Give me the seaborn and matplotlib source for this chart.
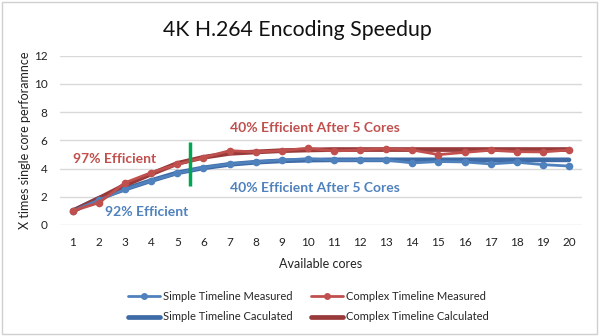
import matplotlib
matplotlib.use("Agg")
import matplotlib.pyplot as plt
from matplotlib.lines import Line2D
from matplotlib.patches import Rectangle
import seaborn as sns
import pandas as pd

cores = list(range(1, 21))
simple_measured = [1.0, 1.77, 2.53, 3.14, 3.67, 4.07, 4.33, 4.47, 4.60, 4.70,
                   4.60, 4.60, 4.60, 4.40, 4.50, 4.47, 4.33, 4.45, 4.28, 4.18]
complex_measured = [1.0, 1.58, 3.00, 3.71, 4.30, 4.78, 5.27, 5.18, 5.27, 5.44,
                    5.25, 5.32, 5.41, 5.32, 4.99, 5.15, 5.30, 5.20, 5.18, 5.32]
simple_calculated = [1.0, 1.90, 2.55, 3.15, 3.70, 4.05, 4.30, 4.45, 4.55, 4.60,
                     4.62, 4.62, 4.62, 4.62, 4.62, 4.62, 4.62, 4.62, 4.62, 4.62]
complex_calculated = [1.0, 1.89, 2.84, 3.62, 4.37, 4.80, 5.08, 5.18, 5.27, 5.32,
                      5.35, 5.35, 5.35, 5.35, 5.35, 5.35, 5.35, 5.35, 5.35, 5.35]
series_names = ["Simple Timeline Measured", "Complex Timeline Measured",
                "Simple Timeline Caculated", "Complex Timeline Calculated"]
split_x = 5.5
split_range = (2.8, 5.85)

BLUE = "#4F81BD"
RED = "#C0504D"
BLUE_DARK = "#3E6AA6"
RED_DARK = "#98393A"

sns.set_theme(style="white")
plt.rcParams["font.family"] = ["Lato", "DejaVu Sans"]

df = pd.DataFrame({
    "cores": cores * 4,
    "value": simple_measured + complex_measured + simple_calculated + complex_calculated,
    "series": sum([[n] * len(cores) for n in series_names], []),
})

fig = plt.figure(figsize=(5.99, 3.36), dpi=100)
fig.patches.append(Rectangle((0.004, 0.005), 0.992, 0.988, transform=fig.transFigure,
                             fill=False, edgecolor="#D0D0D0", linewidth=1.0))
ax = fig.add_axes([0.100, 0.3304, 0.8716, 0.5036])

styles = {
    series_names[2]: dict(color=BLUE_DARK, lw=3.4, marker=None),
    series_names[3]: dict(color=RED_DARK, lw=3.4, marker=None),
    series_names[0]: dict(color=BLUE, lw=2.0, marker="o"),
    series_names[1]: dict(color=RED, lw=2.0, marker="o"),
}
for name in [series_names[2], series_names[3], series_names[0], series_names[1]]:
    st = styles[name]
    sns.lineplot(data=df[df["series"] == name], x="cores", y="value", ax=ax,
                 color=st["color"], linewidth=st["lw"], marker=st["marker"],
                 markersize=5.5 if st["marker"] else 0, markeredgewidth=0,
                 legend=False)

ax.vlines(split_x, split_range[0], split_range[1], color="#00A651", linewidth=2.5, zorder=5)

ax.set_xlim(0.5, 20.5)
ax.set_ylim(0, 12)
ax.set_xticks(cores)
ax.set_yticks(range(0, 13, 2))
ax.grid(axis="y", color="#D9D9D9", linewidth=1.0)
ax.set_axisbelow(True)
for s in ax.spines.values():
    s.set_visible(False)
ax.tick_params(axis="both", length=0, labelsize=8.5, colors="#222222")
ax.tick_params(axis="x", pad=9)
ax.tick_params(axis="y", pad=9)

ax.set_xlabel("Available cores", fontsize=9, color="#222222", labelpad=7)
ax.set_ylabel("X times single core perforamnce", fontsize=9, color="#222222", labelpad=2)
fig.text(0.497, 0.91, "4K H.264 Encoding Speedup", ha="center", va="center",
         fontsize=15.3, color="#111111")

ann = dict(fontsize=10, fontweight="bold", ha="center", va="center")
ax.text(2.6, 4.7, "97% Efficient", color=RED, **ann)
ax.text(3.82, 0.95, "92% Efficient", color=BLUE, **ann)
ax.text(10.28, 6.9, "40% Efficient After 5 Cores", color=RED, **ann)
ax.text(10.28, 2.6, "40% Efficient After 5 Cores", color=BLUE, **ann)

handles = [
    Line2D([], [], color=BLUE, lw=2.0, marker="o", markersize=5, markeredgewidth=0),
    Line2D([], [], color=BLUE_DARK, lw=3.4),
    Line2D([], [], color=RED, lw=2.0, marker="o", markersize=5, markeredgewidth=0),
    Line2D([], [], color=RED_DARK, lw=3.4),
]
labels = [series_names[0], series_names[2], series_names[1], series_names[3]]
fig.legend(handles, labels, loc="center", bbox_to_anchor=(0.515, 0.087), ncol=2,
           frameon=False, fontsize=8, handlelength=2.9, columnspacing=1.6,
           labelspacing=0.85, handletextpad=0.3)

fig.savefig("out.png", dpi=100)
